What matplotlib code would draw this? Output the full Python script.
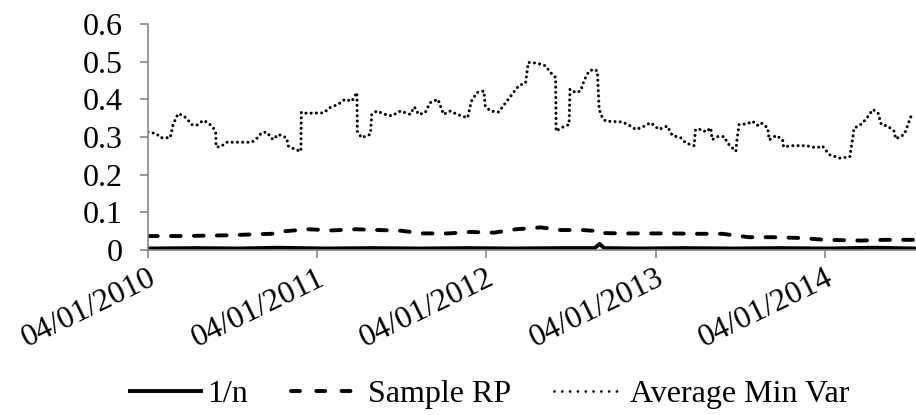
import pandas as pd
import matplotlib.pyplot as plt
import matplotlib.dates as mdates
from matplotlib.lines import Line2D

plt.rcParams['font.family'] = ['Liberation Serif', 'DejaVu Serif']

# Average Min Var (dotted)
minvar_dates = [
    '2010-01-04', '2010-01-22', '2010-01-31', '2010-02-21', '2010-02-27', '2010-03-10',
    '2010-03-21', '2010-04-01', '2010-04-08', '2010-04-19', '2010-05-03', '2010-05-14',
    '2010-05-25', '2010-05-30', '2010-05-31', '2010-06-10', '2010-06-22', '2010-07-11',
    '2010-08-16', '2010-08-26', '2010-09-06', '2010-09-17', '2010-10-01', '2010-10-12',
    '2010-10-30', '2010-11-03', '2010-11-17', '2010-11-30', '2010-12-01', '2010-12-12',
    '2011-01-18', '2011-02-01', '2011-02-19', '2011-03-05', '2011-03-20', '2011-03-31',
    '2011-04-01', '2011-04-10', '2011-04-29', '2011-05-02', '2011-05-13', '2011-05-31',
    '2011-06-14', '2011-07-03', '2011-07-24', '2011-08-02', '2011-08-11', '2011-08-25',
    '2011-09-05', '2011-09-22', '2011-10-04', '2011-10-19', '2011-11-02', '2011-11-25',
    '2011-12-03', '2011-12-15', '2011-12-30', '2012-01-02', '2012-01-13', '2012-01-31',
    '2012-02-15', '2012-02-29', '2012-03-15', '2012-03-29', '2012-04-04', '2012-04-23',
    '2012-05-11', '2012-05-22', '2012-06-02', '2012-06-03', '2012-06-13', '2012-07-01',
    '2012-07-03', '2012-07-15', '2012-07-26', '2012-08-02', '2012-08-13', '2012-08-24',
    '2012-08-31', '2012-09-04', '2012-09-11', '2012-09-18', '2012-10-24', '2012-11-08',
    '2012-11-22', '2012-12-06', '2012-12-24', '2013-01-11', '2013-01-29', '2013-02-09',
    '2013-02-27', '2013-03-10', '2013-03-28', '2013-03-31', '2013-04-15', '2013-04-22',
    '2013-05-03', '2013-05-06', '2013-05-18', '2013-06-01', '2013-06-08', '2013-06-26',
    '2013-06-29', '2013-07-03', '2013-07-21', '2013-08-01', '2013-08-12', '2013-08-19',
    '2013-09-03', '2013-09-06', '2013-09-21', '2013-10-05', '2013-10-07', '2013-10-27',
    '2013-11-25', '2013-12-17', '2013-12-30', '2014-01-14', '2014-02-05', '2014-02-27',
    '2014-03-06', '2014-03-08', '2014-03-19', '2014-04-03', '2014-04-18', '2014-04-29',
    '2014-05-06', '2014-05-20', '2014-06-03', '2014-06-06', '2014-06-25', '2014-07-04',
    '2014-07-09', '2014-07-19',
]
minvar_values = [
    0.313, 0.309, 0.298, 0.298, 0.333, 0.362,
    0.357, 0.344, 0.333, 0.331, 0.344, 0.338,
    0.324, 0.311, 0.274, 0.274, 0.286, 0.286,
    0.286, 0.295, 0.311, 0.313, 0.293, 0.307,
    0.298, 0.276, 0.267, 0.262, 0.366, 0.363,
    0.364, 0.378, 0.387, 0.400, 0.395, 0.418,
    0.315, 0.298, 0.307, 0.360, 0.369, 0.360,
    0.356, 0.369, 0.360, 0.380, 0.360, 0.364,
    0.391, 0.400, 0.360, 0.369, 0.360, 0.351,
    0.395, 0.418, 0.422, 0.382, 0.369, 0.366,
    0.391, 0.413, 0.437, 0.443, 0.498, 0.496,
    0.489, 0.471, 0.458, 0.315, 0.324, 0.333,
    0.427, 0.418, 0.422, 0.449, 0.475, 0.480,
    0.475, 0.373, 0.351, 0.342, 0.340, 0.331,
    0.320, 0.326, 0.338, 0.320, 0.329, 0.304,
    0.298, 0.284, 0.277, 0.320, 0.320, 0.313,
    0.324, 0.293, 0.301, 0.301, 0.284, 0.262,
    0.298, 0.333, 0.335, 0.342, 0.331, 0.338,
    0.324, 0.292, 0.304, 0.293, 0.274, 0.277,
    0.277, 0.271, 0.276, 0.253, 0.244, 0.247,
    0.302, 0.324, 0.329, 0.347, 0.373, 0.364,
    0.333, 0.329, 0.315, 0.295, 0.307, 0.338,
    0.354, 0.357,
]

# Sample RP (dashed)
rp_dates = [
    '2010-01-04', '2010-03-10', '2010-05-05', '2010-06-22', '2010-08-08', '2010-09-28',
    '2010-10-27', '2010-12-17', '2011-02-05', '2011-03-29', '2011-05-18', '2011-07-05',
    '2011-08-21', '2011-10-15', '2011-12-01', '2012-01-21', '2012-03-08', '2012-05-01',
    '2012-06-13', '2012-07-30', '2012-09-04', '2012-09-11', '2012-10-24', '2012-12-06',
    '2013-02-05', '2013-04-02', '2013-05-28', '2013-07-24', '2013-09-12', '2013-11-09',
    '2014-01-06', '2014-03-24', '2014-05-14', '2014-07-19',
]
rp_values = [
    0.037, 0.037, 0.038, 0.039, 0.041, 0.043,
    0.050, 0.055, 0.052, 0.055, 0.053, 0.051,
    0.044, 0.044, 0.048, 0.046, 0.055, 0.060,
    0.053, 0.053, 0.050, 0.045, 0.044, 0.044,
    0.044, 0.043, 0.043, 0.034, 0.034, 0.032,
    0.027, 0.025, 0.027, 0.027,
]

# 1/n (solid)
eq_dates = [
    '2010-01-04', '2010-04-15', '2010-07-20', '2010-10-10', '2011-01-20', '2011-05-01',
    '2011-08-15', '2011-11-20', '2012-03-01', '2012-06-10', '2012-08-25', '2012-09-05',
    '2012-09-15', '2012-12-01', '2013-03-10', '2013-06-20', '2013-10-01', '2014-01-10',
    '2014-04-20', '2014-07-19',
]
eq_values = [
    0.004, 0.005, 0.004, 0.006, 0.004, 0.005,
    0.004, 0.005, 0.004, 0.005, 0.005, 0.016,
    0.005, 0.004, 0.005, 0.004, 0.005, 0.004,
    0.006, 0.004,
]

labels = ['1/n', 'Sample RP', 'Average Min Var']
year_ticks = ['2010-01-04', '2011-01-04', '2012-01-04', '2013-01-04', '2014-01-04']

minvar = pd.Series(minvar_values, index=pd.to_datetime(minvar_dates))
rp = pd.Series(rp_values, index=pd.to_datetime(rp_dates))
eq = pd.Series(eq_values, index=pd.to_datetime(eq_dates))

fig = plt.figure(figsize=(9.16, 4.15), dpi=100)
ax = fig.add_axes([0.1616, 0.3976, 0.8384, 0.5446])

ax.plot(eq.index, eq.values, color='black', lw=2.8)
ax.plot(rp.index, rp.values, color='black', lw=2.8, linestyle=(0, (2.5, 3.4)),
        dash_capstyle='round')
ax.plot(minvar.index, minvar.values, color='black', lw=2.2, linestyle=(0, (0.01, 1.7)),
        dash_capstyle='round')

ax.set_ylim(0, 0.6)
ax.set_yticks([0, 0.1, 0.2, 0.3, 0.4, 0.5, 0.6])
ax.set_yticklabels(['0', '0.1', '0.2', '0.3', '0.4', '0.5', '0.6'])
ax.set_xlim(pd.Timestamp('2010-01-04'), pd.Timestamp('2014-07-20'))
ax.set_xticks(pd.to_datetime(year_ticks))
ax.xaxis.set_major_formatter(mdates.DateFormatter('%d/%m/%Y'))
plt.setp(ax.get_xticklabels(), rotation=26, ha='right', rotation_mode='anchor')

for side in ['top', 'right']:
    ax.spines[side].set_visible(False)
for side in ['left', 'bottom']:
    ax.spines[side].set_color('#868686')
    ax.spines[side].set_linewidth(1.2)
ax.tick_params(axis='both', colors='#868686', labelcolor='black', length=6, width=1.2,
               labelsize=23, direction='out')
ax.tick_params(axis='y', pad=12)
ax.tick_params(axis='x', pad=4)

# legend samples drawn a little differently from the plotted lines, as in the original
handles = [
    Line2D([], [], color='black', lw=2.8),
    Line2D([], [], color='black', lw=2.8, linestyle=(0, (2.3, 4.2)), dash_capstyle='round'),
    Line2D([], [], color='black', lw=2.0, linestyle=(0, (0.01, 2.8)), dash_capstyle='round'),
]
fig.legend(handles, labels, loc='center', bbox_to_anchor=(0.535, 0.05), ncol=3,
           frameon=False, fontsize=23, handlelength=2.2, handletextpad=0.2,
           columnspacing=1.35)

plt.savefig('out.png', dpi=100)
